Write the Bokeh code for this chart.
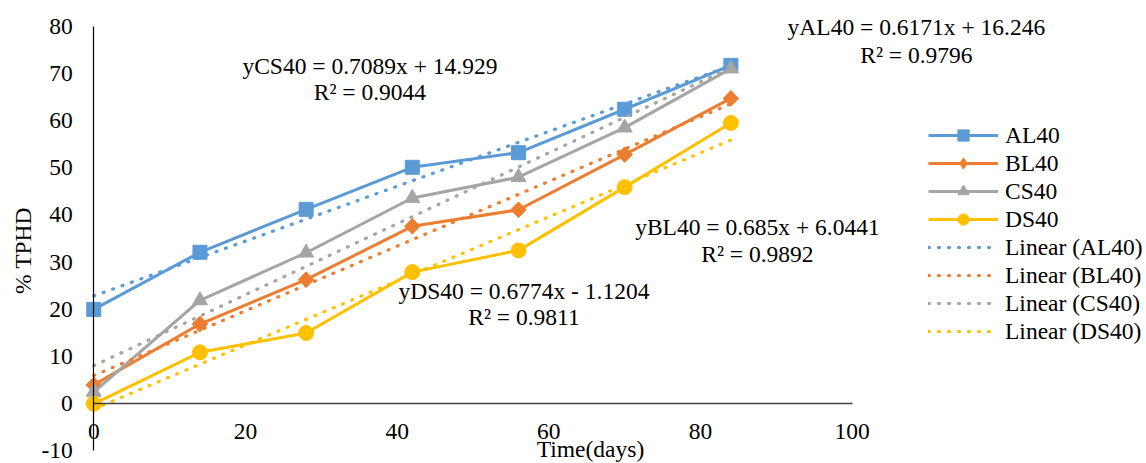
import numpy as np
from bokeh.plotting import figure
from bokeh.models import Range1d, FixedTicker, Legend, LegendItem, ColumnDataSource
from bokeh.embed import file_html
from bokeh.resources import INLINE
from bokeh.core.properties import value

# Sampling days and %TPHD for each treatment
days = [0, 14, 28, 42, 56, 70, 84]
al40 = [20.0, 32.1, 41.2, 50.1, 53.2, 62.4, 71.7]
bl40 = [4.0, 16.9, 26.3, 37.6, 41.1, 52.8, 64.7]
cs40 = [2.5, 21.9, 32.0, 43.6, 48.0, 58.5, 71.0]
ds40 = [0.0, 10.9, 15.0, 27.9, 32.5, 45.9, 59.5]

series_names = ["AL40", "BL40", "CS40", "DS40"]
series_values = [al40, bl40, cs40, ds40]
series_colors = ["#5B9BD5", "#ED7D31", "#A5A5A5", "#FFC000"]
# (marker, size, rotation): the diamond is drawn as a square turned 45 degrees
series_markers = [("square", 14, 0.0), ("square", 11, np.pi / 4),
                  ("triangle", 15, 0.0), ("circle", 15, 0.0)]

# Trendline annotations
eq_lines = [
    "yCS40 = 0.7089x + 14.929", "R² = 0.9044",
    "yAL40 = 0.6171x + 16.246", "R² = 0.9796",
    "yBL40 = 0.685x + 6.0441", "R² = 0.9892",
    "yDS40 = 0.6774x - 1.1204", "R² = 0.9811",
]

x_ticks = [0, 20, 40, 60, 80, 100]
y_ticks = [-10, 0, 10, 20, 30, 40, 50, 60, 70, 80]

FONT = "Liberation Serif"
FS = "23.5px"

p = figure(width=1146, height=463, output_backend="svg", toolbar_location=None,
           x_range=Range1d(-12.3, 138.8), y_range=Range1d(-12.65, 85.44),
           min_border=0, min_border_left=0, min_border_right=0,
           min_border_top=0, min_border_bottom=0)
p.outline_line_color = None
p.grid.visible = False
p.background_fill_color = "white"
p.border_fill_color = "white"

# Axes crossing at the origin
p.xaxis.fixed_location = 0
p.yaxis.fixed_location = 0
p.xaxis.bounds = (0, 100)
p.yaxis.bounds = (-10, 80)
p.xaxis.ticker = FixedTicker(ticks=x_ticks)
p.yaxis.ticker = FixedTicker(ticks=y_ticks)
p.yaxis.major_label_overrides = {-10: "-10"}
p.axis.major_tick_line_color = None
p.axis.minor_tick_line_color = None
p.axis.major_tick_in = 0
p.axis.major_tick_out = 0
p.xaxis.axis_line_color = "#404040"
p.xaxis.axis_line_width = 1.3
p.yaxis.axis_line_color = "#000000"
p.yaxis.axis_line_width = 1.2
p.axis.major_label_text_font = FONT
p.axis.major_label_text_font_size = FS
p.axis.major_label_text_color = "black"
p.xaxis.major_label_standoff = 20
p.yaxis.major_label_standoff = 21

data_items = []
trend_items = []
trend_sources = []
xs = np.array(days, dtype=float)
for name, vals, col, (mk, ms, ang) in zip(series_names, series_values,
                                          series_colors, series_markers):
    src = ColumnDataSource(dict(x=days, y=vals))
    ln = p.line("x", "y", source=src, line_color=col, line_width=3)
    legend_marks = [ln]
    if ang:
        # upright diamond glyph under the turned square, used for the legend swatch
        dm = p.scatter("x", "y", source=src, marker="diamond", size=15,
                       fill_color=col, line_color=col)
        legend_marks.append(dm)
    sc = p.scatter("x", "y", source=src, marker=mk, size=ms, angle=ang,
                   fill_color=col, line_color=col)
    if not ang:
        legend_marks.append(sc)
    data_items.append(LegendItem(label=name, renderers=legend_marks))

    # least-squares linear trend over the sampled days
    slope, intercept = np.polyfit(xs, np.array(vals, dtype=float), 1)
    tsrc = ColumnDataSource(dict(x=[xs[0], xs[-1]],
                                 y=[intercept + slope * xs[0], intercept + slope * xs[-1]]))
    trend_sources.append((name, col, tsrc))

for name, col, tsrc in trend_sources:
    tr = p.line("x", "y", source=tsrc, line_color=col, line_width=3.2,
                line_dash="1 9", line_cap="round")
    trend_items.append(LegendItem(label=f"Linear ({name})", renderers=[tr]))

# Equation text, two lines per trend
eq_x = [36.41, 36.41, 108.46, 108.46, 87.5, 87.5, 56.72, 56.72]
eq_y = [71.57, 65.95, 79.72, 73.79, 37.42, 31.84, 24.0, 18.35]
p.text(x=eq_x, y=eq_y, text=eq_lines, text_font=value(FONT), text_font_size=FS,
       text_color="black", text_align="center", text_baseline="middle")

# Axis titles
p.text(x=[-9.27], y=[32.48], text=["% TPHD"], angle=np.pi / 2,
       text_font=value(FONT), text_font_size=FS, text_color="black",
       text_align="center", text_baseline="middle")
p.text(x=[65.49], y=[-9.6], text=["Time(days)"],
       text_font=value(FONT), text_font_size=FS, text_color="black",
       text_align="center", text_baseline="middle")

legend = Legend(items=data_items + trend_items, location=(928, 118),
                glyph_width=70, glyph_height=28, label_height=21, spacing=0,
                label_standoff=7, padding=0, margin=0,
                border_line_color=None, background_fill_alpha=0,
                label_text_font=FONT, label_text_font_size=FS,
                label_text_color="black")
p.add_layout(legend)

open("out.html", "w").write(file_html(p, INLINE))
